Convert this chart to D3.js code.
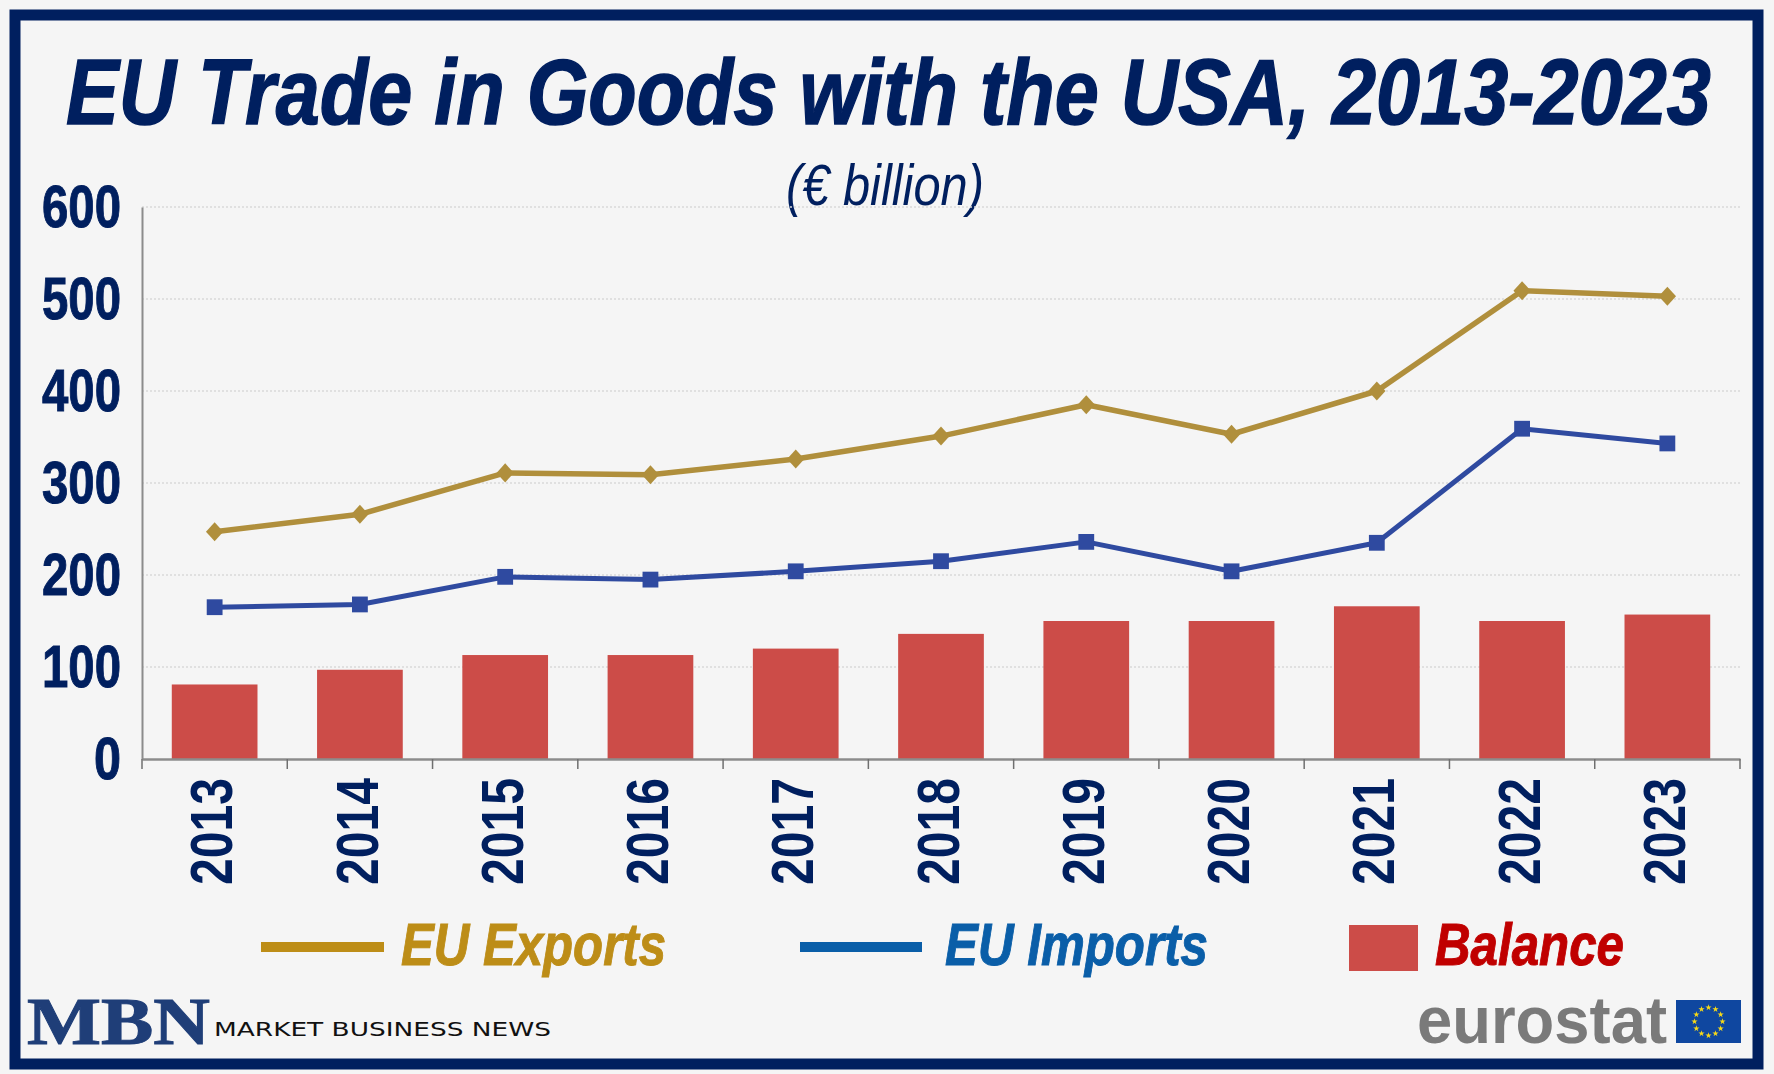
<!DOCTYPE html>
<html>
<head>
<meta charset="utf-8">
<script src="https://cdn.jsdelivr.net/npm/d3@7"></script>
<style>
  html, body { margin: 0; padding: 0; background: #f5f5f5; }
  svg { display: block; }
</style>
</head>
<body>
<script>
const years = ['2013', '2014', '2015', '2016', '2017', '2018', '2019', '2020', '2021', '2022', '2023'];
const exportsEU = [247, 266, 311, 309, 326, 351, 385, 353, 400, 509, 503];
const importsEU = [165, 168, 198, 195, 204, 215, 236, 204, 235, 359, 343];
const balance = [81, 97, 113, 113, 120, 136, 150, 150, 166, 150, 157];
const yTicks = [0, 100, 200, 300, 400, 500, 600];

const w = 1774;
const h = 1074;
const plot = {left: 142, right: 1740, top: 207, bottom: 759};
const navy = '#001f5f';
const sans = '"Liberation Sans", Arial, sans-serif';

const svg = d3.select('body')
  .append('svg')
  .attr('width', w)
  .attr('height', h)
  .attr('viewBox', [0, 0, w, h])
  .style('font-family', sans);

svg.append('rect')
  .attr('width', w)
  .attr('height', h)
  .attr('fill', '#f5f5f5');

// frame
svg.append('rect')
  .attr('x', 15)
  .attr('y', 15)
  .attr('width', 1743)
  .attr('height', 1049)
  .attr('fill', 'none')
  .attr('stroke', navy)
  .attr('stroke-width', 11);

const addText = (x, y, str, opts) => svg.append('text')
  .attr('x', x)
  .attr('y', y)
  .attr('font-size', opts.size)
  .attr('font-weight', opts.weight || 'bold')
  .attr('font-style', opts.style || 'italic')
  .attr('font-family', opts.family || sans)
  .attr('fill', opts.fill)
  .attr('stroke', opts.stroke ? opts.fill : 'none')
  .attr('stroke-width', opts.stroke || 0)
  .attr('textLength', opts.len)
  .attr('lengthAdjust', 'spacingAndGlyphs')
  .text(str);

// title squeezed with a transform, it is wider than the page at its natural width
const title = addText(0, 0, 'EU Trade in Goods with the USA, 2013-2023', {size: 93, fill: navy, stroke: 1.5})
  .attr('textLength', null)
  .attr('lengthAdjust', null);
title.attr('transform', `translate(66,124) scale(${1645 / title.node().getComputedTextLength()},1)`);

addText(786, 205, '(€ billion)', {size: 58, weight: 'normal', fill: navy, len: 198});

const x = d3.scaleBand()
  .domain(years)
  .range([plot.left, plot.right]);

const y = d3.scaleLinear()
  .domain([0, 600])
  .range([plot.bottom, plot.top]);

// gridlines
svg.append('g')
  .selectAll('line')
  .data(yTicks.filter(d => d > 0))
  .join('line')
    .attr('x1', plot.left)
    .attr('x2', plot.right)
    .attr('y1', d => y(d))
    .attr('y2', d => y(d))
    .attr('stroke', '#d9d9d9')
    .attr('stroke-width', 1.5)
    .attr('stroke-dasharray', '2 2');

// bars
svg.append('g')
  .selectAll('rect')
  .data(balance)
  .join('rect')
    .attr('x', (d, i) => x(years[i]) + x.bandwidth() * 0.205)
    .attr('y', d => y(d))
    .attr('width', x.bandwidth() * 0.59)
    .attr('height', d => y(0) - y(d))
    .attr('fill', '#cc4c48');

// axes
const yAxis = svg.append('g')
  .attr('transform', `translate(${plot.left},0)`)
  .call(d3.axisLeft(y).tickValues(yTicks).tickSize(0).tickPadding(21));

yAxis.select('.domain')
  .attr('stroke', '#8c8c8c')
  .attr('stroke-width', 2);

yAxis.selectAll('text')
  .attr('font-size', 60)
  .attr('font-weight', 'bold')
  .attr('font-family', sans)
  .attr('fill', navy)
  .attr('stroke', navy)
  .attr('stroke-width', 1)
  .attr('textLength', d => d === 0 ? 27 : 79)
  .attr('lengthAdjust', 'spacingAndGlyphs');

const xAxis = svg.append('g')
  .attr('transform', `translate(0,${plot.bottom})`)
  .call(d3.axisBottom(x).tickSize(0));

xAxis.select('.domain')
  .attr('stroke', '#8c8c8c')
  .attr('stroke-width', 2.5);

xAxis.selectAll('text')
  .attr('transform', 'rotate(-90)')
  .attr('x', -126)
  .attr('y', -4)
  .attr('dy', '0.36em')
  .attr('text-anchor', 'start')
  .attr('font-size', 60)
  .attr('font-weight', 'bold')
  .attr('font-family', sans)
  .attr('fill', navy)
  .attr('textLength', 107)
  .attr('lengthAdjust', 'spacingAndGlyphs');

// tick marks sit on the band edges
svg.append('g')
  .selectAll('line')
  .data(years.concat('end'))
  .join('line')
    .attr('x1', (d, i) => plot.left + i * x.step())
    .attr('x2', (d, i) => plot.left + i * x.step())
    .attr('y1', plot.bottom)
    .attr('y2', plot.bottom + 10)
    .attr('stroke', '#6f6f6f')
    .attr('stroke-width', 1.5);

// lines
const line = d3.line()
  .x((d, i) => x(years[i]) + x.bandwidth() / 2)
  .y(d => y(d));

const drawSeries = (values, color, width, symbol, size) => {
  svg.append('path')
    .datum(values)
    .attr('fill', 'none')
    .attr('stroke', color)
    .attr('stroke-width', width)
    .attr('stroke-linejoin', 'round')
    .attr('d', line);

  svg.append('g')
    .selectAll('path')
    .data(values)
    .join('path')
      .attr('d', d3.symbol().type(symbol).size(size))
      .attr('transform', (d, i) => `translate(${x(years[i]) + x.bandwidth() / 2},${y(d)})`)
      .attr('fill', color);
};

// d3 has no flat diamond, this one is a bit taller than wide like the original
const diamond = {
  draw(ctx, size) {
    const r = Math.sqrt(size) / 2;
    ctx.moveTo(0, -r * 1.1);
    ctx.lineTo(r, 0);
    ctx.lineTo(0, r * 1.1);
    ctx.lineTo(-r, 0);
    ctx.closePath();
  }
};

drawSeries(exportsEU, '#b08f3c', 5.5, diamond, 300);
drawSeries(importsEU, '#2f4aa0', 5, d3.symbolSquare, 250);

// legend
svg.append('rect').attr('x', 261).attr('y', 942).attr('width', 123).attr('height', 10).attr('fill', '#bd8d17');
addText(401, 965, 'EU Exports', {size: 60, fill: '#bd8d17', len: 265, stroke: 1});

svg.append('rect').attr('x', 800).attr('y', 942).attr('width', 122).attr('height', 10).attr('fill', '#0a5ea8');
addText(945, 965, 'EU Imports', {size: 60, fill: '#0a5ea8', len: 263, stroke: 1});

svg.append('rect').attr('x', 1349).attr('y', 925).attr('width', 69).attr('height', 46).attr('fill', '#cc4c48');
addText(1435, 965, 'Balance', {size: 60, fill: '#c00000', len: 189, stroke: 1});

// MBN logo
addText(27, 1044, 'MBN', {size: 68, style: 'normal', family: '"Liberation Serif"', fill: '#1f3e78', len: 183, stroke: 1});
addText(214, 1036, 'MARKET BUSINESS NEWS', {size: 19.5, weight: 'normal', style: 'normal', family: '"DejaVu Sans"', fill: '#111111', len: 337});

// eurostat logo
addText(1417, 1043, 'eurostat', {size: 66, style: 'normal', fill: '#7a7a7a', len: 250});

const flag = {x: 1676, y: 1000, w: 65, h: 43};
svg.append('rect')
  .attr('x', flag.x)
  .attr('y', flag.y)
  .attr('width', flag.w)
  .attr('height', flag.h)
  .attr('fill', '#0f47a0');

svg.append('g')
  .selectAll('path')
  .data(d3.range(12))
  .join('path')
    .attr('d', d3.symbol().type(d3.symbolStar).size(12))
    .attr('transform', d => {
      const a = d * Math.PI / 6;
      return `translate(${flag.x + flag.w / 2 + 14 * Math.cos(a)},${flag.y + flag.h / 2 + 14 * Math.sin(a)})`;
    })
    .attr('fill', '#f7d917');
</script>
</body>
</html>
